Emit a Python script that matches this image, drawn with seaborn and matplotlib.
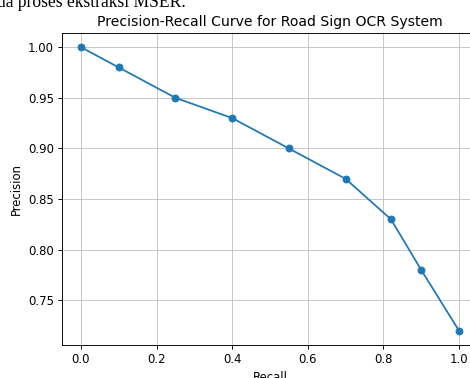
import matplotlib
matplotlib.use("Agg")
import matplotlib.pyplot as plt
import seaborn as sns
import pandas as pd

recall = [0.0, 0.1, 0.25, 0.4, 0.55, 0.7, 0.82, 0.9, 1.0]
precision = [1.00, 0.98, 0.95, 0.93, 0.90, 0.87, 0.83, 0.78, 0.72]

df = pd.DataFrame({"Recall": recall, "Precision": precision})

DPI = 84
fig = plt.figure(figsize=(471 / DPI, 378 / DPI), dpi=DPI)
ax = fig.add_axes([62 / 471, 33 / 378, 416 / 471, 312 / 378])

sns.lineplot(data=df, x="Recall", y="Precision", marker="o", color="#1f77b4",
             markeredgecolor="#1f77b4", markersize=6, linewidth=1.5, ax=ax)
ax.set_title("Precision-Recall Curve for Road Sign OCR System")
ax.set_xlabel("Recall")
ax.set_ylabel("Precision")
ax.grid(True, color="#c4c4c4")
ax.spines["right"].set_visible(False)

fig.text(-3 / 471, 1 - 7 / 378, "da proses ekstraksi MSER.", family="Liberation Serif",
         fontsize=15, va="baseline", ha="left", color="black")

fig.savefig("out.png", dpi=DPI)
